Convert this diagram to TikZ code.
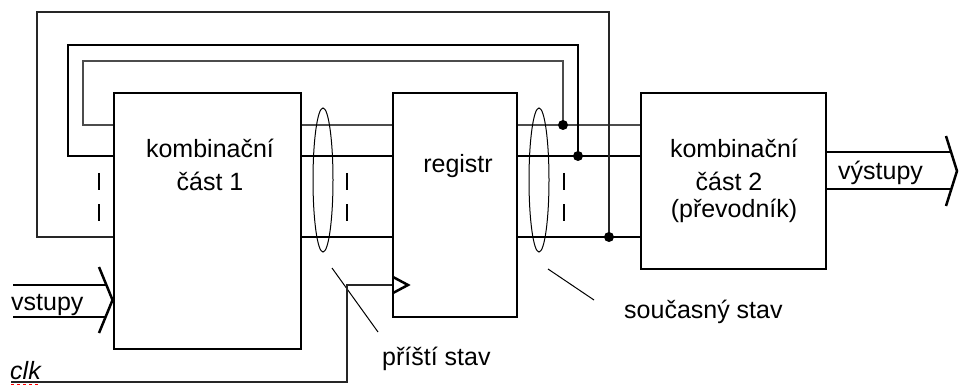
\documentclass[tikz,border=0pt]{standalone}
\usepackage{fontspec}
\setmainfont{Liberation Sans}
\usetikzlibrary{shapes.geometric}
\begin{document}
\begin{tikzpicture}[x=1pt,y=-1pt,
  box/.style={draw=black,line width=2.9pt,inner sep=0pt},
  thickw/.style={draw=black,line width=2.9pt},
  thinw/.style={draw=black!70,line width=2pt},
  bus/.style={draw=black,line width=1pt,ellipse,inner sep=0pt,minimum width=20pt,minimum height=144pt},
  pointer/.style={draw=black,line width=1pt},
  tick/.style={draw=black,line width=2.9pt},
  dot/.style={circle,fill=black,inner sep=0pt,minimum size=10pt},
  txt/.style={font=\fontsize{25}{30}\selectfont,inner sep=0pt,anchor=base},
  lbl/.style={font=\fontsize{25}{30}\selectfont,inner sep=0pt,anchor=base west},
  hollow/.style={draw=black,line width=2.5pt}]
\useasboundingbox (0,0) rectangle (959,385);
% boxes
\node[box,minimum width=187pt,minimum height=256pt] (b1) at (207.5,221) {};
\node[box,minimum width=124pt,minimum height=224pt] (reg) at (455,205) {};
\node[box,minimum width=185pt,minimum height=176pt] (b2) at (733.5,181) {};
% texts
\node[txt] (t1a) at (210,158) {kombinační};
\node[txt] (t1b) at (210,190) {část 1};
\node[txt] (tr) at (458,173) {registr};
\node[txt] (t2a) at (734,158) {kombinační};
\node[txt] (t2b) at (729,190) {část 2};
\node[txt] (t2c) at (734,218) {(převodník)};
% level coordinates
\coordinate (ya) at (0,125);
\coordinate (yb) at (0,156);
\coordinate (yc) at (0,237);
\coordinate (j1) at (563,125);
\coordinate (j2) at (578,156);
\coordinate (j3) at (609,237);
% wires box1 -> reg
\draw[thinw] (b1.east |- ya) -- (reg.west |- ya);
\draw[thickw] (b1.east |- yb) -- (reg.west |- yb);
\draw[thickw] (b1.east |- yc) -- (reg.west |- yc);
% wires reg -> box2
\draw[thinw] (reg.east |- ya) -- (b2.west |- ya);
\draw[thickw] (reg.east |- yb) -- (b2.west |- yb);
\draw[thickw] (reg.east |- yc) -- (b2.west |- yc);
% feedback loops
\draw[thinw] (j1) -- (563,61) -- (83,61) -- (83,125) -- (b1.west |- ya);
\draw[thickw] (j2) -- (578,45) -- (68,45) -- (68,156) -- (b1.west |- yb);
\draw[thickw,draw=black!85,line width=2.5pt] (j3) -- (609,12) -- (37,12) -- (37,237) -- (b1.west |- yc);
\node[dot] (d1) at (j1) {};
\node[dot] (d2) at (j2) {};
\node[dot] (d3) at (j3) {};
% dashes indicating more wires
\foreach \x in {99,347,564}{
  \draw[tick] (\x,173) -- (\x,190);
  \draw[tick] (\x,204) -- (\x,221);
}
% bus ellipses and pointers
\node[bus] (e1) at (323,180) {};
\node[bus] (e2) at (539,180) {};
\coordinate (p1s) at (332,268);
\coordinate (p1e) at (378,332);
\coordinate (p2s) at (548,269);
\coordinate (p2e) at (594,300);
\draw[pointer] (p1s) -- (p1e);
\draw[pointer] (p2s) -- (p2e);
\node[lbl] (l1) at (382,365) {příští stav};
\node[lbl] (l2) at (624,318) {současný stav};
% vstupy hollow arrow
\coordinate (vin1) at (13,285);
\coordinate (vin2) at (13,317);
\draw[hollow] (vin1) -- (106,285);
\draw[hollow] (vin2) -- (106,317);
\draw[hollow] (99,267) -- (b1.west |- {(0,300)}) -- (99,333);
\node[lbl] (lv) at (11,310) {vstupy};
% vystupy hollow arrow
\coordinate (vout1) at (952,152);
\coordinate (vout2) at (952,189);
\draw[hollow] (b2.east |- vout1) -- (vout1);
\draw[hollow] (b2.east |- vout2) -- (vout2);
\draw[hollow] (946,136) -- (957,171) -- (946,206);
\node[lbl] (lo) at (838,180) {výstupy};
% clk
\coordinate (clk0) at (11,382);
\draw[thickw,draw=black!85,line width=2.5pt] (clk0) -- (347,382) -- (347,285) -- (reg.west |- {(0,285)});
\draw[black,line width=2.5pt,line join=miter] (393,277) -- (408,285) -- (393,293);
\node[lbl,font=\fontsize{25}{30}\selectfont\itshape] (lc) at (10,379) {clk};
\draw[red,line width=1.5pt,dash pattern=on 3pt off 3pt] (11,384.5) -- (41,384.5);
\end{tikzpicture}
\end{document}
